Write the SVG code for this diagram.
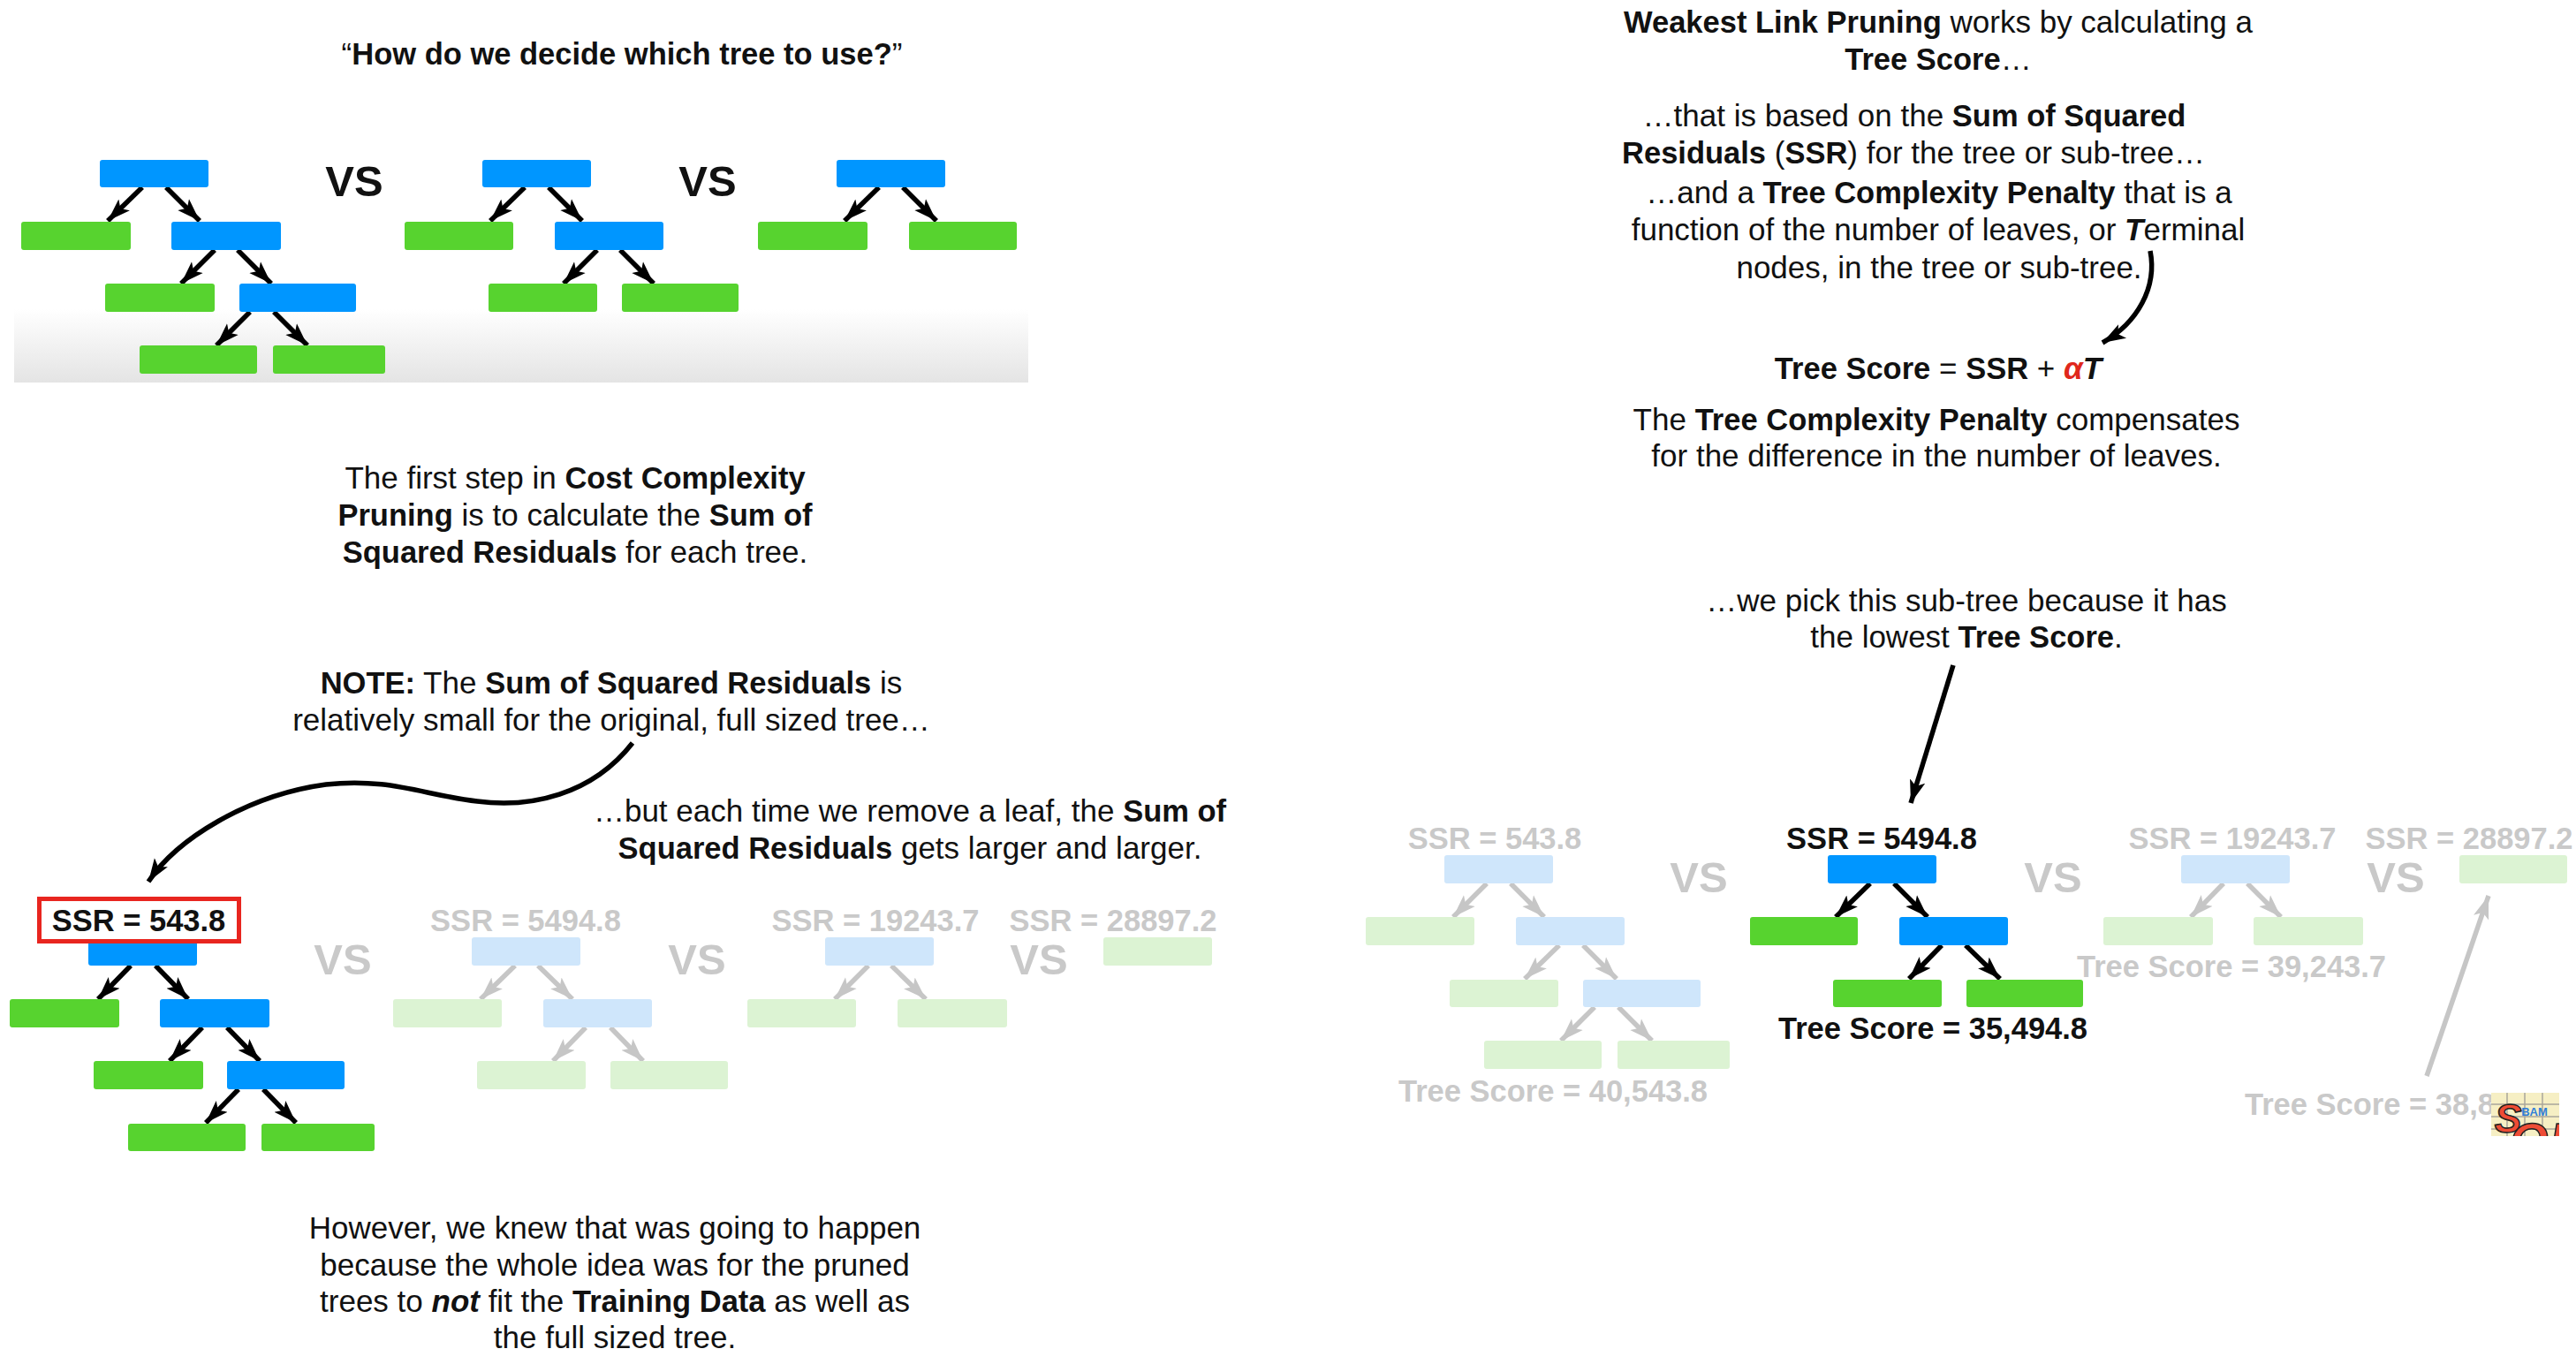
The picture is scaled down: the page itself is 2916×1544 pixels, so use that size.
<svg xmlns="http://www.w3.org/2000/svg" width="2916" height="1544" viewBox="0 0 2916 1544">
<style>
text{font-family:"Liberation Sans",Arial,sans-serif;font-size:35px;fill:#111;text-anchor:middle}
.h{font-weight:700;font-size:34.500px}.bi{font-weight:700;font-style:italic}
.vs{font-size:49px;font-weight:700}
.pale{fill:#c9c9c9}
.b{fill:#0096ff}.g{fill:#57d32f}.pb{fill:#cfe6fb}.pg{fill:#dcf3d3}
.k{stroke:#000;stroke-width:5.500;fill:none;marker-end:url(#ak)}
.y{stroke:#c6c6c6;stroke-width:5.500;fill:none;marker-end:url(#ay)}
</style>
<defs>
<marker id="ak" markerUnits="userSpaceOnUse" markerWidth="30" markerHeight="24" refX="26" refY="12" orient="auto"><path d="M26 12 L0 3 L6 12 L0 21Z" fill="#000"/></marker>
<marker id="ay" markerUnits="userSpaceOnUse" markerWidth="30" markerHeight="24" refX="26" refY="12" orient="auto"><path d="M26 12 L0 3 L6 12 L0 21Z" fill="#c6c6c6"/></marker>
<linearGradient id="fade" x1="0" y1="0" x2="0" y2="1"><stop offset="0" stop-color="#fff"/><stop offset="1" stop-color="#e4e4e4"/></linearGradient>
<clipPath id="soclip"><rect x="2820" y="1237" width="77" height="49"/></clipPath>
</defs>

<rect id="floor" x="16" y="350" width="1148" height="83" fill="url(#fade)"/>

<g id="connectors">
<path class="k" d="M161 212L122 250"/><path class="k" d="M188 212L226 250"/><path class="k" d="M243 283L205 321"/><path class="k" d="M269 283L307 321"/><path class="k" d="M283 353L245 391"/><path class="k" d="M310 353L348 391"/>
<path class="k" d="M594 212L555 250"/><path class="k" d="M621 212L659 250"/><path class="k" d="M676 283L638 321"/><path class="k" d="M702 283L740 321"/>
<path class="k" d="M995 212L956 250"/><path class="k" d="M1022 212L1060 250"/>
<path class="k" d="M716 841C670 900 600 915 540 907C480 900 440 880 369 888C280 900 200 950 168 998"/>
<path class="k" d="M148 1093L111 1131"/><path class="k" d="M176 1093L213 1131"/><path class="k" d="M229 1163L192 1201"/><path class="k" d="M257 1163L294 1201"/><path class="k" d="M270 1233L233 1271"/><path class="k" d="M298 1233L335 1271"/>
<path class="y" d="M583 1093L544 1131"/><path class="y" d="M609 1093L648 1131"/><path class="y" d="M663 1163L626 1201"/><path class="y" d="M691 1163L728 1201"/>
<path class="y" d="M983 1093L945 1131"/><path class="y" d="M1009 1093L1048 1131"/>
<path class="k" d="M2434 284C2442 325 2420 365 2380 388"/>
<path class="k" d="M2211 753L2163 909"/>
<path class="y" d="M1683 1000L1645 1038"/><path class="y" d="M1710 1000L1748 1038"/><path class="y" d="M1765 1070L1726 1108"/><path class="y" d="M1792 1070L1830 1108"/><path class="y" d="M1805 1140L1767 1178"/><path class="y" d="M1832 1140L1870 1178"/>
<path class="k" d="M2117 1000L2078 1038"/><path class="k" d="M2144 1000L2182 1038"/><path class="k" d="M2198 1070L2161 1108"/><path class="k" d="M2225 1070L2264 1108"/>
<path class="y" d="M2517 1000L2480 1038"/><path class="y" d="M2544 1000L2582 1038"/>
<path class="y" d="M2747 1218L2817 1014"/>
</g>

<g id="top-tree-1">
<rect class="b" x="113" y="181" width="123" height="31" rx="3"/><rect class="g" x="24" y="251" width="124" height="32" rx="3"/><rect class="b" x="194" y="251" width="124" height="32" rx="3"/><rect class="g" x="119" y="321" width="124" height="32" rx="3"/><rect class="b" x="271" y="321" width="132" height="32" rx="3"/><rect class="g" x="158" y="391" width="133" height="32" rx="3"/><rect class="g" x="309" y="391" width="127" height="32" rx="3"/>
</g>
<g id="top-tree-2">
<rect class="b" x="546" y="181" width="123" height="31" rx="3"/><rect class="g" x="458" y="251" width="123" height="32" rx="3"/><rect class="b" x="628" y="251" width="123" height="32" rx="3"/><rect class="g" x="553" y="321" width="123" height="32" rx="3"/><rect class="g" x="704" y="321" width="132" height="32" rx="3"/>
</g>
<g id="top-tree-3">
<rect class="b" x="947" y="181" width="123" height="31" rx="3"/><rect class="g" x="858" y="251" width="124" height="32" rx="3"/><rect class="g" x="1029" y="251" width="122" height="32" rx="3"/>
</g>
<g id="top-labels">
<text x="704" y="73">“<tspan class="h">How do we decide which tree to use?</tspan>”</text>
<text class="vs" x="401" y="222">VS</text>
<text class="vs" x="801" y="222">VS</text>
</g>

<g id="text-first-step">
<text x="651" y="553">The first step in <tspan class="h">Cost Complexity</tspan></text>
<text x="651" y="595"><tspan class="h">Pruning</tspan> is to calculate the <tspan class="h">Sum of</tspan></text>
<text x="651" y="637"><tspan class="h">Squared Residuals</tspan> for each tree.</text>
</g>
<g id="text-note">
<text x="692" y="785"><tspan class="h">NOTE:</tspan> The <tspan class="h">Sum of Squared Residuals</tspan> is</text>
<text x="692" y="827">relatively small for the original, full sized tree…</text>
</g>
<g id="text-each-time">
<text x="1030" y="930">…but each time we remove a leaf, the <tspan class="h">Sum of</tspan></text>
<text x="1030" y="972"><tspan class="h">Squared Residuals</tspan> gets larger and larger.</text>
</g>

<g id="mid-tree-1">
<rect class="b" x="100" y="1061" width="123" height="32" rx="3"/><rect class="g" x="11" y="1131" width="124" height="32" rx="3"/><rect class="b" x="181" y="1131" width="124" height="32" rx="3"/><rect class="g" x="106" y="1201" width="124" height="32" rx="3"/><rect class="b" x="257" y="1201" width="133" height="32" rx="3"/><rect class="g" x="145" y="1272" width="133" height="31" rx="3"/><rect class="g" x="296" y="1272" width="128" height="31" rx="3"/>
<rect x="44.500" y="1017.500" width="226" height="48" fill="#fff" stroke="#e8251f" stroke-width="5"/>
<text class="h" x="157" y="1054">SSR = 543.8</text>
</g>
<g id="mid-tree-2">
<rect class="pb" x="534" y="1061" width="123" height="32" rx="3"/><rect class="pg" x="445" y="1131" width="123" height="32" rx="3"/><rect class="pb" x="615" y="1131" width="123" height="32" rx="3"/><rect class="pg" x="540" y="1201" width="123" height="32" rx="3"/><rect class="pg" x="691" y="1201" width="133" height="32" rx="3"/>
<text class="h pale" x="595" y="1054">SSR = 5494.8</text>
</g>
<g id="mid-tree-3">
<rect class="pb" x="934" y="1061" width="123" height="32" rx="3"/><rect class="pg" x="846" y="1131" width="123" height="32" rx="3"/><rect class="pg" x="1016" y="1131" width="124" height="32" rx="3"/>
<text class="h pale" x="991" y="1054">SSR = 19243.7</text>
</g>
<g id="mid-tree-4">
<rect class="pg" x="1249" y="1061" width="123" height="32" rx="3"/>
<text class="h pale" x="1260" y="1054">SSR = 28897.2</text>
</g>
<g id="mid-vs">
<text class="vs pale" x="388" y="1103">VS</text><text class="vs pale" x="789" y="1103">VS</text><text class="vs pale" x="1176" y="1103">VS</text>
</g>

<g id="text-however">
<text x="696" y="1402">However, we knew that was going to happen</text>
<text x="696" y="1444">because the whole idea was for the pruned</text>
<text x="696" y="1485">trees to <tspan class="bi">not</tspan> fit the <tspan class="h">Training Data</tspan> as well as</text>
<text x="696" y="1526">the full sized tree.</text>
</g>

<g id="text-weakest">
<text x="2194" y="37"><tspan class="h">Weakest Link Pruning</tspan> works by calculating a</text>
<text x="2194" y="79"><tspan class="h">Tree Score</tspan>…</text>
</g>
<g id="text-based">
<text x="2167" y="143">…that is based on the <tspan class="h">Sum of Squared</tspan></text>
<text x="2166" y="185"><tspan class="h">Residuals</tspan> (<tspan class="h">SSR</tspan>) for the tree or sub-tree…</text>
</g>
<g id="text-penalty">
<text x="2195" y="230">…and a <tspan class="h">Tree Complexity Penalty</tspan> that is a</text>
<text x="2194" y="272">function of the number of leaves, or <tspan class="bi">T</tspan>erminal</text>
<text x="2195" y="315">nodes, in the tree or sub-tree.</text>
</g>
<g id="formula">
<text x="2194" y="429"><tspan class="h">Tree Score</tspan> = <tspan class="h">SSR</tspan> + <tspan class="bi" style="fill:#e0281c">α</tspan><tspan class="bi">T</tspan></text>
</g>
<g id="text-compensates">
<text x="2192" y="487">The <tspan class="h">Tree Complexity Penalty</tspan> compensates</text>
<text x="2192" y="528">for the difference in the number of leaves.</text>
</g>
<g id="text-pick">
<text x="2226" y="692">…we pick this sub-tree because it has</text>
<text x="2226" y="733">the lowest <tspan class="h">Tree Score</tspan>.</text>
</g>

<g id="right-tree-1">
<rect class="pb" x="1635" y="968" width="123" height="32" rx="3"/><rect class="pg" x="1546" y="1038" width="123" height="32" rx="3"/><rect class="pb" x="1716" y="1038" width="123" height="32" rx="3"/><rect class="pg" x="1641" y="1109" width="123" height="31" rx="3"/><rect class="pb" x="1792" y="1109" width="133" height="31" rx="3"/><rect class="pg" x="1680" y="1178" width="133" height="32" rx="3"/><rect class="pg" x="1831" y="1178" width="127" height="32" rx="3"/>
<text class="h pale" x="1692" y="961">SSR = 543.8</text>
<text class="h pale" x="1758" y="1247">Tree Score = 40,543.8</text>
</g>
<g id="right-tree-2">
<rect class="b" x="2069" y="968" width="123" height="32" rx="3"/><rect class="g" x="1981" y="1038" width="122" height="32" rx="3"/><rect class="b" x="2150" y="1038" width="123" height="32" rx="3"/><rect class="g" x="2075" y="1109" width="123" height="31" rx="3"/><rect class="g" x="2226" y="1109" width="132" height="31" rx="3"/>
<text class="h" x="2130" y="961">SSR = 5494.8</text>
<text class="h" x="2188" y="1176">Tree Score = 35,494.8</text>
</g>
<g id="right-tree-3">
<rect class="pb" x="2469" y="968" width="123" height="32" rx="3"/><rect class="pg" x="2381" y="1038" width="124" height="32" rx="3"/><rect class="pg" x="2551" y="1038" width="124" height="32" rx="3"/>
<text class="h pale" x="2527" y="961">SSR = 19243.7</text>
<text class="h pale" x="2526" y="1106">Tree Score = 39,243.7</text>
</g>
<g id="right-tree-4">
<rect class="pg" x="2784" y="968" width="122" height="32" rx="3"/>
<text class="h pale" x="2795" y="961">SSR = 28897.2</text>
<text class="h pale" x="2541" y="1262" style="text-anchor:start">Tree Score = 38,8</text>
</g>
<g id="right-vs">
<text class="vs pale" x="1923" y="1010">VS</text><text class="vs pale" x="2324" y="1010">VS</text><text class="vs pale" x="2712" y="1010">VS</text>
</g>

<g id="so-badge" clip-path="url(#soclip)">
<rect x="2820" y="1237" width="77" height="49" fill="#f6efc4"/>
<path d="M2820 1250H2897M2820 1264H2897M2820 1278H2897M2838 1237V1286M2858 1237V1286M2878 1237V1286" stroke="#a9a79b" stroke-width="1.500" fill="none"/>
<text x="2839" y="1282" style="font-size:46px;font-weight:700;font-style:italic;fill:#ee4c35;stroke:#222;stroke-width:1.500">S</text>
<text x="2872" y="1310" style="font-size:56px;font-weight:700;font-style:italic;fill:#ee4c35;stroke:#222;stroke-width:1.500">O!</text>
<text x="2869" y="1263" style="font-size:13px;font-weight:700;fill:#2f7fd8">BAM</text>
</g>
</svg>
